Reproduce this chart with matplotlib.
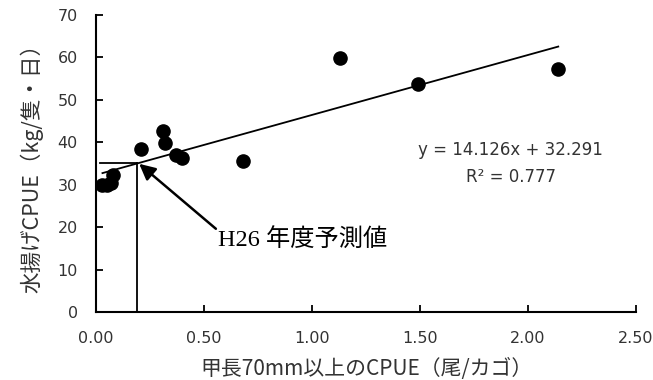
import matplotlib.pyplot as plt
import numpy as np

plt.rcParams['font.family'] = ['Noto Sans CJK JP', 'DejaVu Sans']

# data
x_vals = [0.03, 0.05, 0.07, 0.08, 0.21, 0.31, 0.32, 0.37, 0.40, 0.68, 1.13, 1.49, 2.14]
y_vals = [29.8, 30.0, 30.4, 32.2, 38.5, 42.6, 39.8, 37.0, 36.3, 35.6, 59.8, 53.6, 57.3]
slope, intercept = 14.126, 32.291
pred_x, pred_y = 0.19, 35.2

x_ticks = [0, 0.5, 1.0, 1.5, 2.0, 2.5]
x_labels = ["0.00", "0.50", "1.00", "1.50", "2.00", "2.50"]
y_ticks = [0, 10, 20, 30, 40, 50, 60, 70]


def main():
    fig = plt.figure(figsize=(6.53, 3.8), dpi=100)
    ax = fig.add_axes([0.147, 0.179, 0.827, 0.782])

    ax.scatter(x_vals, y_vals, s=90, color="black", zorder=3)

    tx = np.array([min(x_vals), max(x_vals)])
    ax.plot(tx, slope * tx + intercept, color="black", lw=1.3)

    # prediction guide lines
    ax.plot([0.02, pred_x], [pred_y, pred_y], color="black", lw=1.3)
    ax.plot([pred_x, pred_x], [0, pred_y], color="black", lw=1.3)

    ax.annotate("", xy=(pred_x + 0.01, pred_y - 0.3), xytext=(0.555, 19.6),
                arrowprops=dict(arrowstyle="-|>", color="black", lw=1.8,
                                mutation_scale=24, shrinkA=0, shrinkB=0))
    ax.text(0.565, 17.0, "H26 年度予測値", fontsize=17.5,
            family=["Liberation Serif", "Noto Sans CJK JP"],
            va="center", ha="left")

    ax.text(1.92, 38.2, "y = 14.126x + 32.291", ha="center", va="center",
            fontsize=12, family="DejaVu Sans", color="#333333")
    ax.text(1.92, 31.8, "R² = 0.777", ha="center", va="center",
            fontsize=12, family="DejaVu Sans", color="#333333")

    ax.set_xlim(0, 2.5)
    ax.set_ylim(0, 70)
    ax.set_xticks(x_ticks, x_labels)
    ax.set_yticks(y_ticks)
    ax.tick_params(direction="in", length=5, width=1.3, labelsize=11.5,
                   labelcolor="#333333")
    ax.tick_params(axis="x", pad=14)
    ax.tick_params(axis="y", pad=13)
    for lab in ax.get_xticklabels() + ax.get_yticklabels():
        lab.set_family("DejaVu Sans")
    for side in ["top", "right"]:
        ax.spines[side].set_visible(False)
    for side in ["left", "bottom"]:
        ax.spines[side].set_linewidth(1.5)

    ax.set_xlabel("甲長70mm以上のCPUE（尾/カゴ）", fontsize=15, color="#333333",
                  labelpad=8)
    ax.set_ylabel("水揚げCPUE（kg/隻・日）", fontsize=15.5, color="#333333",
                  labelpad=10)

    fig.savefig("out.png", dpi=100)


if __name__ == "__main__":
    main()
